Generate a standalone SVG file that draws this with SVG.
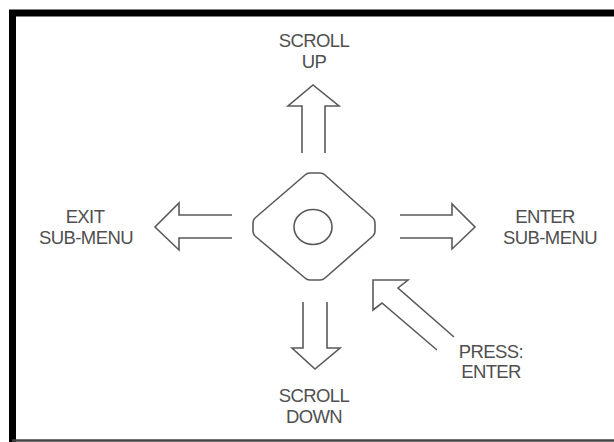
<svg xmlns="http://www.w3.org/2000/svg" width="614" height="442" viewBox="0 0 614 442">
<style>
.ln{fill:none;stroke:#5a5a5a;stroke-width:1.6;stroke-linejoin:miter}
.rd{stroke-linejoin:round}
.t{font-family:"Liberation Sans",Arial,sans-serif;font-size:18.5px;fill:#505050;text-anchor:middle;letter-spacing:-0.6px}
</style>
<rect width="614" height="442" fill="#fff"/>
<g id="frame">
<path d="M12.5,442 V13 H620" fill="none" stroke="#000" stroke-width="7"/>
<line x1="12" y1="440.5" x2="614" y2="440.5" stroke="#444" stroke-width="2.5"/>
</g>
<g id="joystick">
<path class="ln rd" d="M310,173 H320 Q323,173 325,175 L373,218 Q375,220 375,223 V231 Q375,234 373,236 L325,278 Q323,280 320,280 H310 Q307,280 305,278 L255,236 Q253,234 253,231 V223 Q253,220 255,218 L305,175 Q307,173 310,173 Z"/>
<ellipse class="ln" cx="313" cy="227" rx="19" ry="17.5"/>
</g>
<g id="connectors">
<path id="arrow-up" class="ln" d="M302,153 V106 H288 L313,85 L339,106 H325 V153"/>
<path id="arrow-left" class="ln" d="M232,215 H179 V203 L155,227 L179,250 V238 H232"/>
<path id="arrow-right" class="ln" d="M400,215 H452 V204 L475,227 L452,249 V238 H400"/>
<path id="arrow-down" class="ln" d="M303,302 V348 H292 L315,369 L340,348 H327 V302"/>
<path id="arrow-press" class="ln" d="M454,337 L398,288 L408,280 H373 V310 L382,303 L437,350"/>
</g>
<g id="label-up">
<text class="t" x="314" y="47">SCROLL</text>
<text class="t" x="314" y="68">UP</text>
</g>
<g id="label-exit">
<text class="t" x="85" y="223">EXIT</text>
<text class="t" x="86" y="244">SUB-MENU</text>
</g>
<g id="label-enter">
<text class="t" x="545" y="223">ENTER</text>
<text class="t" x="550" y="244">SUB-MENU</text>
</g>
<g id="label-down">
<text class="t" x="314" y="402">SCROLL</text>
<text class="t" x="314" y="423">DOWN</text>
</g>
<g id="label-press">
<text class="t" x="491" y="358">PRESS:</text>
<text class="t" x="491" y="378">ENTER</text>
</g>
</svg>
